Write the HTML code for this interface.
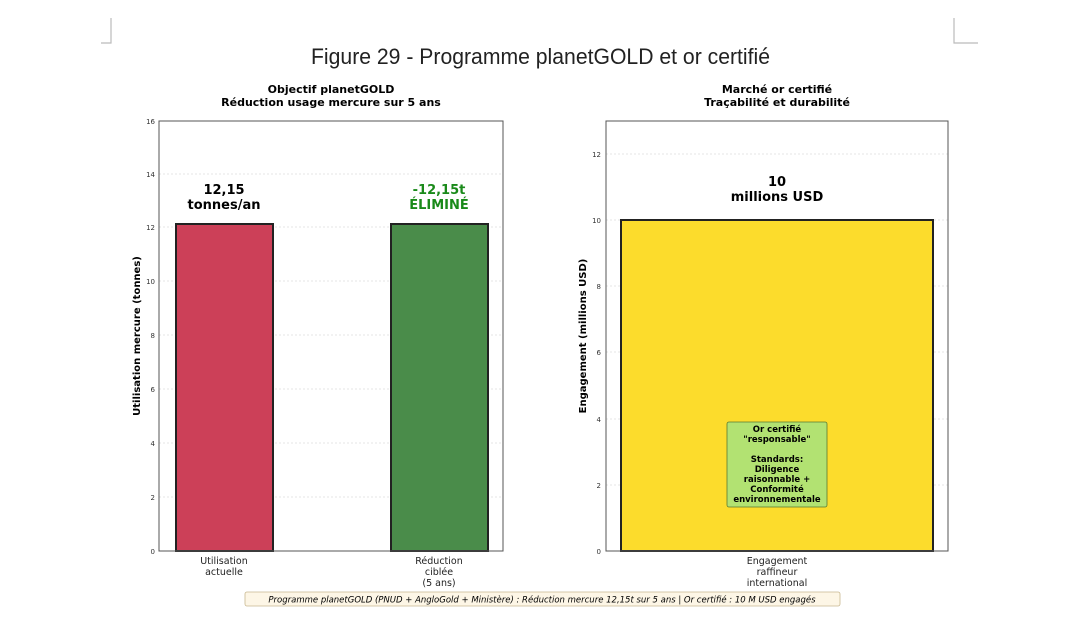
<!DOCTYPE html>
<html><head><meta charset="utf-8"><style>
html,body{margin:0;padding:0;background:#fff;}
svg text{font-family:"DejaVu Sans","Liberation Sans",sans-serif;}
</style></head><body>
<svg width="1080" height="618" viewBox="0 0 1080 618" xmlns="http://www.w3.org/2000/svg">
<rect width="1080" height="618" fill="#fff"/>
<path d="M111 18 V43 H101" fill="none" stroke="#bbb" stroke-width="1.2"/>
<path d="M954 18 V43 H978" fill="none" stroke="#bbb" stroke-width="1.2"/>
<text x="311" y="64" font-size="22" textLength="459" lengthAdjust="spacingAndGlyphs" style="font-family:'Liberation Sans',sans-serif" fill="#222">Figure 29 - Programme planetGOLD et or certifié</text>

<!-- LEFT -->
<text x="331" y="93" text-anchor="middle" font-size="11" font-weight="bold">Objectif planetGOLD</text>
<text x="331" y="106" text-anchor="middle" font-size="11" font-weight="bold">Réduction usage mercure sur 5 ans</text>
<g stroke="#ddd" stroke-dasharray="2,2" stroke-width="0.8">
<line x1="159" x2="503" y1="497" y2="497"/><line x1="159" x2="503" y1="443" y2="443"/>
<line x1="159" x2="503" y1="389" y2="389"/><line x1="159" x2="503" y1="335" y2="335"/>
<line x1="159" x2="503" y1="281" y2="281"/><line x1="159" x2="503" y1="227" y2="227"/>
<line x1="159" x2="503" y1="174" y2="174"/>
</g>
<rect x="176" y="224" width="97" height="327" fill="#cc4058" stroke="#222" stroke-width="2"/>
<rect x="391" y="224" width="97" height="327" fill="#4a8c4a" stroke="#222" stroke-width="2"/>
<rect x="159" y="121" width="344" height="430" fill="none" stroke="#555" stroke-width="1"/>
<g font-size="7" fill="#333" text-anchor="end">
<text x="155" y="554">0</text><text x="155" y="500">2</text><text x="155" y="446">4</text>
<text x="155" y="392">6</text><text x="155" y="338">8</text><text x="155" y="284">10</text>
<text x="155" y="230">12</text><text x="155" y="177">14</text><text x="155" y="124">16</text>
</g>
<text transform="translate(140,336) rotate(-90)" text-anchor="middle" font-size="10" font-weight="bold">Utilisation mercure (tonnes)</text>
<text x="224" y="194" text-anchor="middle" font-size="13" font-weight="bold">12,15</text>
<text x="224" y="209" text-anchor="middle" font-size="13" font-weight="bold">tonnes/an</text>
<text x="439" y="194" text-anchor="middle" font-size="13" font-weight="bold" fill="#1a8a1a">-12,15t</text>
<text x="439" y="209" text-anchor="middle" font-size="13" font-weight="bold" fill="#1a8a1a">ÉLIMINÉ</text>
<g font-size="9.5" fill="#222" text-anchor="middle">
<text x="224" y="564">Utilisation</text><text x="224" y="575">actuelle</text>
<text x="439" y="564">Réduction</text><text x="439" y="575">ciblée</text><text x="439" y="586">(5 ans)</text>
</g>

<!-- RIGHT -->
<text x="777" y="93" text-anchor="middle" font-size="11" font-weight="bold">Marché or certifié</text>
<text x="777" y="106" text-anchor="middle" font-size="11" font-weight="bold">Traçabilité et durabilité</text>
<g stroke="#ddd" stroke-dasharray="2,2" stroke-width="0.8">
<line x1="606" x2="948" y1="485" y2="485"/><line x1="606" x2="948" y1="419" y2="419"/>
<line x1="606" x2="948" y1="352" y2="352"/><line x1="606" x2="948" y1="286" y2="286"/>
<line x1="606" x2="948" y1="220" y2="220"/><line x1="606" x2="948" y1="154" y2="154"/>
</g>
<rect x="621" y="220" width="312" height="331" fill="#fcdc2c" stroke="#222" stroke-width="2"/>
<rect x="606" y="121" width="342" height="430" fill="none" stroke="#555" stroke-width="1"/>
<g font-size="7" fill="#333" text-anchor="end">
<text x="601" y="554">0</text><text x="601" y="488">2</text><text x="601" y="422">4</text>
<text x="601" y="355">6</text><text x="601" y="289">8</text><text x="601" y="223">10</text>
<text x="601" y="157">12</text>
</g>
<text transform="translate(586,336) rotate(-90)" text-anchor="middle" font-size="10" font-weight="bold">Engagement (millions USD)</text>
<text x="777" y="186" text-anchor="middle" font-size="13" font-weight="bold">10</text>
<text x="777" y="201" text-anchor="middle" font-size="13" font-weight="bold">millions USD</text>
<rect x="727" y="422" width="100" height="85" rx="2" fill="#b2e272" stroke="#5a7a30" stroke-width="0.8"/>
<g font-size="8.5" font-weight="bold" text-anchor="middle">
<text x="777" y="432">Or certifié</text><text x="777" y="442">"responsable"</text>
<text x="777" y="462">Standards:</text><text x="777" y="472">Diligence</text>
<text x="777" y="482">raisonnable +</text><text x="777" y="492">Conformité</text>
<text x="777" y="502">environnementale</text>
</g>
<g font-size="9.5" fill="#222" text-anchor="middle">
<text x="777" y="564">Engagement</text><text x="777" y="575">raffineur</text><text x="777" y="586">international</text>
</g>

<rect x="245" y="592" width="595" height="14" rx="2" fill="#fdf6e6" stroke="#c8b890" stroke-width="0.8"/>
<text x="542" y="602.5" text-anchor="middle" font-size="8.5" font-style="italic">Programme planetGOLD (PNUD + AngloGold + Ministère) : Réduction mercure 12,15t sur 5 ans | Or certifié : 10 M USD engagés</text>
</svg>
</body></html>
